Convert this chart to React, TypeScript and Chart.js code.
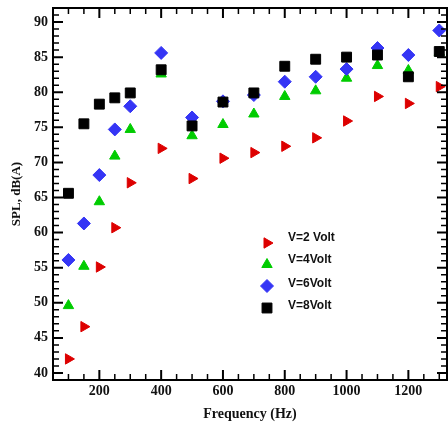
import React, { useEffect, useRef } from "react";
import { Chart, registerables } from "chart.js";

Chart.register(...registerables);

const frequencies = [100, 150, 200, 250, 300, 400, 500, 600, 700, 800, 900, 1000, 1100, 1200, 1300];
const splV2 = [42.0, 46.6, 55.1, 60.7, 67.1, 72.0, 67.7, 70.6, 71.4, 72.3, 73.5, 75.9, 79.4, 78.4, 80.8];
const splV4 = [49.6, 55.2, 64.4, 70.9, 74.7, 82.6, 73.8, 75.4, 76.9, 79.4, 80.2, 82.0, 83.8, 83.1, 85.7];
const splV6 = [56.1, 61.3, 68.2, 74.7, 78.0, 85.6, 76.4, 78.7, 79.6, 81.5, 82.2, 83.3, 86.3, 85.3, 88.8];
const splV8 = [65.6, 75.5, 78.3, 79.2, 79.9, 83.2, 75.2, 78.6, 79.9, 83.7, 84.7, 85.0, 85.3, 82.2, 85.8];
const seriesLabels = ["V=2 Volt", "V=4Volt", "V=6Volt", "V=8Volt"];
const xTicks = [200, 400, 600, 800, 1000, 1200];
const yTicks = [40, 45, 50, 55, 60, 65, 70, 75, 80, 85, 90];

const STYLES = [
  { color: "#dd0000", pointStyle: "triangle", radius: 6, rotation: 90 },
  { color: "#00cc00", pointStyle: "triangle", radius: 6, rotation: 0 },
  { color: "#3535f5", pointStyle: "rectRot", radius: 6.5, rotation: 0 },
  { color: "#000000", pointStyle: "rect", radius: 7, rotation: 0 },
];

const SERIF = '"Liberation Serif", "Times New Roman", serif';
const SANS = '"Liberation Sans", Arial, sans-serif';

function drawMarker(ctx: CanvasRenderingContext2D, style: any, x: number, y: number) {
  const r = style.radius;
  ctx.beginPath();
  if (style.pointStyle === "triangle") {
    let rad = (style.rotation * Math.PI) / 180;
    ctx.moveTo(x + Math.sin(rad) * r, y - Math.cos(rad) * r);
    rad += (2 * Math.PI) / 3;
    ctx.lineTo(x + Math.sin(rad) * r, y - Math.cos(rad) * r);
    rad += (2 * Math.PI) / 3;
    ctx.lineTo(x + Math.sin(rad) * r, y - Math.cos(rad) * r);
  } else if (style.pointStyle === "rectRot") {
    ctx.moveTo(x - r, y);
    ctx.lineTo(x, y - r);
    ctx.lineTo(x + r, y);
    ctx.lineTo(x, y + r);
  } else {
    const s = Math.SQRT1_2 * r;
    ctx.rect(x - s, y - s, 2 * s, 2 * s);
  }
  ctx.closePath();
  ctx.fillStyle = style.color;
  ctx.strokeStyle = style.color;
  ctx.lineWidth = 1;
  ctx.fill();
  ctx.stroke();
}

const framePlugin = {
  id: "frameTicks",
  afterDraw(chart: any) {
    const ctx = chart.ctx as CanvasRenderingContext2D;
    const { left, right, top, bottom } = chart.chartArea;
    const xs = chart.scales.x;
    const ys = chart.scales.y;
    ctx.save();
    ctx.strokeStyle = "#000";
    for (let v = 0; v <= 1400; v += 50) {
      const px = xs.getPixelForValue(v);
      if (px <= left + 1 || px >= right - 1) continue;
      const major = v % 200 === 0;
      const len = major ? 10 : 6;
      ctx.lineWidth = major ? 2 : 1.5;
      ctx.beginPath();
      ctx.moveTo(px, bottom);
      ctx.lineTo(px, bottom - len);
      ctx.moveTo(px, top);
      ctx.lineTo(px, top + len);
      ctx.stroke();
    }
    for (let v = 30; v <= 100; v += 1) {
      const py = ys.getPixelForValue(v);
      if (py <= top + 1 || py >= bottom - 1) continue;
      const major = v % 5 === 0;
      const len = major ? 10 : 6;
      ctx.lineWidth = major ? 2 : 1.5;
      ctx.beginPath();
      ctx.moveTo(left, py);
      ctx.lineTo(left + len, py);
      ctx.moveTo(right, py);
      ctx.lineTo(right - len, py);
      ctx.stroke();
    }
    ctx.lineWidth = 2;
    ctx.strokeRect(left, top, right - left, bottom - top);

    // legend
    const markerX = 267;
    const textX = 288;
    const markerYs = [243, 264.5, 286, 308];
    const textYs = [238, 259.5, 284, 306];
    ctx.font = `bold 12px ${SANS}`;
    ctx.textBaseline = "middle";
    ctx.textAlign = "left";
    seriesLabels.forEach((label, i) => {
      drawMarker(ctx, STYLES[i], markerX, markerYs[i]);
      ctx.fillStyle = "#111";
      ctx.fillText(label, textX, textYs[i]);
    });
    ctx.restore();
  },
};

export default function App() {
  const canvasRef = useRef<HTMLCanvasElement | null>(null);

  useEffect(() => {
    document.body.style.margin = "0";
    const canvas = canvasRef.current;
    if (!canvas) return;
    const seriesValues = [splV2, splV4, splV6, splV8];
    const datasets = seriesValues.map((vals, i) => ({
      label: seriesLabels[i],
      data: frequencies.map((f, j) => ({ x: f, y: vals[j] })),
      showLine: false,
      pointStyle: STYLES[i].pointStyle as any,
      pointRadius: STYLES[i].radius,
      pointRotation: STYLES[i].rotation,
      pointBackgroundColor: STYLES[i].color,
      pointBorderColor: STYLES[i].color,
      pointBorderWidth: 1,
      backgroundColor: STYLES[i].color,
      borderColor: STYLES[i].color,
      order: 3 - i,
    }));

    const chart = new Chart(canvas, {
      type: "scatter",
      data: { datasets },
      options: {
        responsive: false,
        animation: false,
        layout: { autoPadding: false, padding: { top: 8, right: 1, left: 0, bottom: 0 } },
        plugins: { legend: { display: false }, tooltip: { enabled: false } },
        scales: {
          x: {
            type: "linear",
            min: 50,
            max: 1325,
            grid: { display: false, drawTicks: false },
            border: { display: false },
            afterBuildTicks: (s: any) => {
              s.ticks = xTicks.map((v) => ({ value: v }));
            },
            afterFit: (s: any) => {
              s.height = 46;
              s.paddingLeft = 0;
              s.paddingRight = 0;
            },
            ticks: {
              color: "#111",
              padding: 3,
              maxRotation: 0,
              autoSkip: false,
              callback: (v: any) => String(v),
              font: { family: SERIF, size: 14, weight: "bold" },
            },
            title: {
              display: true,
              text: "Frequency (Hz)",
              color: "#111",
              padding: { top: 0, bottom: 3 },
              font: { family: SERIF, size: 14, weight: "bold" },
            },
          },
          y: {
            type: "linear",
            min: 39,
            max: 92,
            grid: { display: false, drawTicks: false },
            border: { display: false },
            afterBuildTicks: (s: any) => {
              s.ticks = yTicks.map((v) => ({ value: v }));
            },
            afterFit: (s: any) => {
              s.width = 53;
              s.paddingTop = 0;
              s.paddingBottom = 0;
            },
            ticks: {
              color: "#111",
              padding: 5,
              autoSkip: false,
              callback: (v: any) => String(v),
              font: { family: SERIF, size: 14, weight: "bold" },
            },
            title: {
              display: true,
              text: "SPL, dB(A)",
              color: "#111",
              padding: { top: 9, bottom: 0 },
              font: { family: SERIF, size: 13, weight: "bold" },
            },
          },
        },
      },
      plugins: [framePlugin],
    });
    return () => chart.destroy();
  }, []);

  return (
    <div style={{ position: "absolute", left: 0, top: 0, width: 448, height: 426 }}>
      <canvas ref={canvasRef} width={448} height={426} style={{ display: "block" }} />
    </div>
  );
}
